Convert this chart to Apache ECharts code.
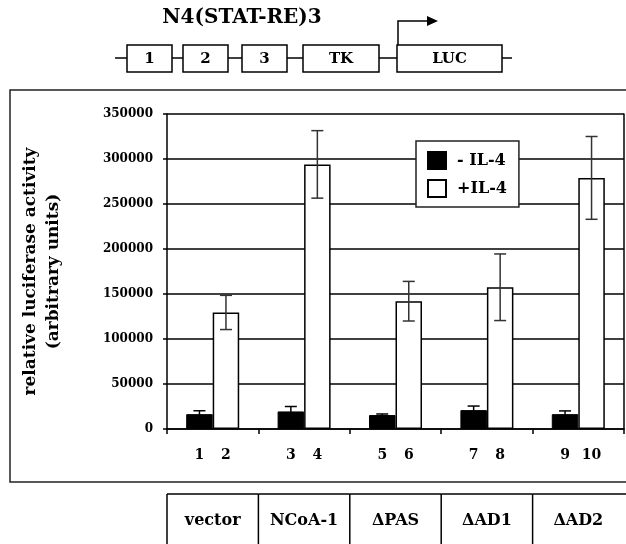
<!DOCTYPE html>
<html>
<head>
<meta charset="utf-8">
<script src="https://cdn.jsdelivr.net/npm/echarts@6/dist/echarts.min.js"></script>
<style>
  html, body { margin: 0; padding: 0; background: #fff; }
  #chart { width: 626px; height: 544px; }
</style>
</head>
<body>
<div id="chart"></div>
<script>
// ---- data ----
const categories = ['vector', 'NCoA-1', '\u0394PAS', '\u0394AD1', '\u0394AD2'];
const seriesNames = ['- IL-4', '+IL-4'];
const minusIL4 = [16500, 19500, 15500, 21000, 16500];
const minusErr = [3800, 5500, 1200, 4500, 3600];
const plusIL4 = [129500, 294000, 142000, 157500, 279000];
const plusErr = [19000, 37500, 22000, 37000, 46000];
const laneMinus = ['1', '3', '5', '7', '9'];
const lanePlus = ['2', '4', '6', '8', '10'];
const yMin = 0, yMax = 350000, yInterval = 50000;
const diagramTitle = 'N4(STAT-RE)3';
const diagramBoxes = ['1', '2', '3', 'TK', 'LUC'];
const yTitle = 'relative luciferase activity\n(arbitrary units)';

// ---- style ----
const FONT = '"DejaVu Serif", "Liberation Serif", serif';
const BAR_FRAC = 0.29;

const chart = echarts.init(document.getElementById('chart'), null, { renderer: 'canvas' });

function errorSeries(name, vals, errs, side, color) {
  return {
    type: 'custom',
    name: name + ' err',
    z: 5,
    data: vals.map((v, i) => [i, v, errs[i]]),
    renderItem: function (params, api) {
      const i = api.value(0), v = api.value(1), e = api.value(2);
      const band = api.size([1, 0])[0];
      const off = side * band * BAR_FRAC / 2;
      const top = api.coord([i, v + e]);
      const bot = api.coord([i, v - e]);
      const x = top[0] + off;
      const cap = 6;
      const st = { stroke: color, lineWidth: 1.5 };
      return {
        type: 'group',
        children: [
          { type: 'line', shape: { x1: x, y1: top[1], x2: x, y2: bot[1] }, style: st },
          { type: 'line', shape: { x1: x - cap, y1: top[1], x2: x + cap, y2: top[1] }, style: st },
          { type: 'line', shape: { x1: x - cap, y1: bot[1], x2: x + cap, y2: bot[1] }, style: st }
        ]
      };
    }
  };
}

const boxX = [[127, 172], [183, 228], [242, 287], [303, 379], [397, 502]];
const diag = [];
diag.push({ type: 'line', shape: { x1: 115, y1: 58, x2: 512, y2: 58 }, style: { stroke: '#000', lineWidth: 1.5 } });
diagramBoxes.forEach((t, k) => {
  const [a, b] = boxX[k];
  diag.push({ type: 'rect', shape: { x: a, y: 45, width: b - a, height: 27 }, style: { fill: '#fff', stroke: '#000', lineWidth: 1.5 } });
  diag.push({ type: 'text', x: (a + b) / 2, y: 59, style: { text: t, font: 'bold 15px ' + FONT, fill: '#000', align: 'center', verticalAlign: 'middle' } });
});
diag.push({ type: 'polyline', shape: { points: [[398, 45], [398, 21], [428, 21]] }, style: { stroke: '#000', lineWidth: 1.5, fill: null } });
diag.push({ type: 'polygon', shape: { points: [[427, 16], [438, 21], [427, 26]] }, style: { fill: '#000' } });
diag.push({ type: 'text', x: 242, y: 18, style: { text: diagramTitle, font: 'bold 20px ' + FONT, fill: '#000', align: 'center', verticalAlign: 'middle' } });
diag.push({ type: 'rect', z: -10, shape: { x: 10, y: 90, width: 700, height: 392 }, style: { fill: null, stroke: '#222', lineWidth: 1.5 } });

const option = {
  animation: false,
  backgroundColor: '#fff',
  grid: [
    { left: 167, right: 2, top: 114, bottom: 115, containLabel: false },
    { left: 167, right: 2, top: 494, height: 60, containLabel: false }
  ],
  legend: {
    data: seriesNames,
    orient: 'vertical',
    left: 416, top: 141,
    backgroundColor: '#fff',
    borderColor: '#222', borderWidth: 1.5,
    padding: [10, 12, 9, 11],
    itemWidth: 18, itemHeight: 17, itemGap: 9,
    icon: 'rect',
    textStyle: { fontFamily: FONT, fontWeight: 'bold', fontSize: 16, color: '#000', padding: [0, 0, 0, 6] },
    z: 10
  },
  xAxis: [
    {
      type: 'category', data: categories, gridIndex: 0, position: 'bottom',
      axisLine: { lineStyle: { color: '#000', width: 1.5 } },
      axisTick: { show: true, length: 5, lineStyle: { color: '#000', width: 1.5 } },
      axisLabel: { show: false },
      splitLine: { show: false }
    },
    {
      type: 'category', data: categories, gridIndex: 1, show: false
    }
  ],
  yAxis: [
    {
      type: 'value', min: yMin, max: yMax, interval: yInterval,
      name: yTitle, nameLocation: 'middle', nameRotate: 90, nameGap: 102,
      nameTextStyle: { fontFamily: FONT, fontWeight: 'bold', fontSize: 17, color: '#000', lineHeight: 23 },
      axisLine: { show: true, lineStyle: { color: '#000', width: 1.5 } },
      axisTick: { show: true, length: 4, lineStyle: { color: '#000', width: 1.5 } },
      axisLabel: { margin: 14, fontFamily: FONT, fontWeight: 'bold', fontSize: 12, color: '#000', formatter: v => String(v) },
      splitLine: { show: true, lineStyle: { color: '#000', width: 1.5 } }
    },
    {
      type: 'value', min: yMin, max: yMax, interval: yInterval, position: 'right',
      axisLine: { show: true, lineStyle: { color: '#000', width: 1.5 } },
      axisTick: { show: false }, axisLabel: { show: false }, splitLine: { show: false }
    },
    {
      type: 'value', gridIndex: 1, min: 0, max: 1, show: false
    }
  ],
  series: [
    {
      name: seriesNames[0], type: 'bar', data: minusIL4, barWidth: (BAR_FRAC * 100) + '%', barGap: '0%',
      itemStyle: { color: '#000', borderColor: '#000', borderWidth: 1 },
      label: { show: true, position: 'bottom', distance: 19, formatter: p => laneMinus[p.dataIndex],
        fontFamily: FONT, fontWeight: 'bold', fontSize: 14, color: '#000' },
      z: 3
    },
    {
      name: seriesNames[1], type: 'bar', data: plusIL4, barWidth: (BAR_FRAC * 100) + '%', barGap: '0%',
      itemStyle: { color: '#fff', borderColor: '#000', borderWidth: 1.5 },
      label: { show: true, position: 'bottom', distance: 19, formatter: p => lanePlus[p.dataIndex],
        fontFamily: FONT, fontWeight: 'bold', fontSize: 14, color: '#000' },
      z: 3
    },
    errorSeries(seriesNames[0], minusIL4, minusErr, -1, '#000'),
    errorSeries(seriesNames[1], plusIL4, plusErr, 1, '#333'),
    {
      type: 'custom', name: 'table', xAxisIndex: 1, yAxisIndex: 2,
      data: categories.map((c, i) => [i, 1]),
      renderItem: function (params, api) {
        const i = api.value(0);
        const band = api.size([1, 0])[0];
        const topP = api.coord([i, 1]);
        const botP = api.coord([i, 0]);
        const x0 = topP[0] - band / 2, x1 = topP[0] + band / 2;
        const last = i === categories.length - 1;
        const st = { stroke: '#000', lineWidth: 1.5 };
        return {
          type: 'group',
          children: [
            { type: 'line', shape: { x1: x0, y1: topP[1], x2: last ? x1 + 20 : x1, y2: topP[1] }, style: st },
            { type: 'line', shape: { x1: x0, y1: topP[1], x2: x0, y2: botP[1] }, style: st },
            { type: 'text', x: topP[0], y: topP[1] + 27, style: { text: categories[i], font: 'bold 16px ' + FONT, fill: '#000', align: 'center', verticalAlign: 'middle' } }
          ]
        };
      }
    }
  ],
  graphic: { elements: diag }
};
chart.setOption(option);
</script>
</body>
</html>
